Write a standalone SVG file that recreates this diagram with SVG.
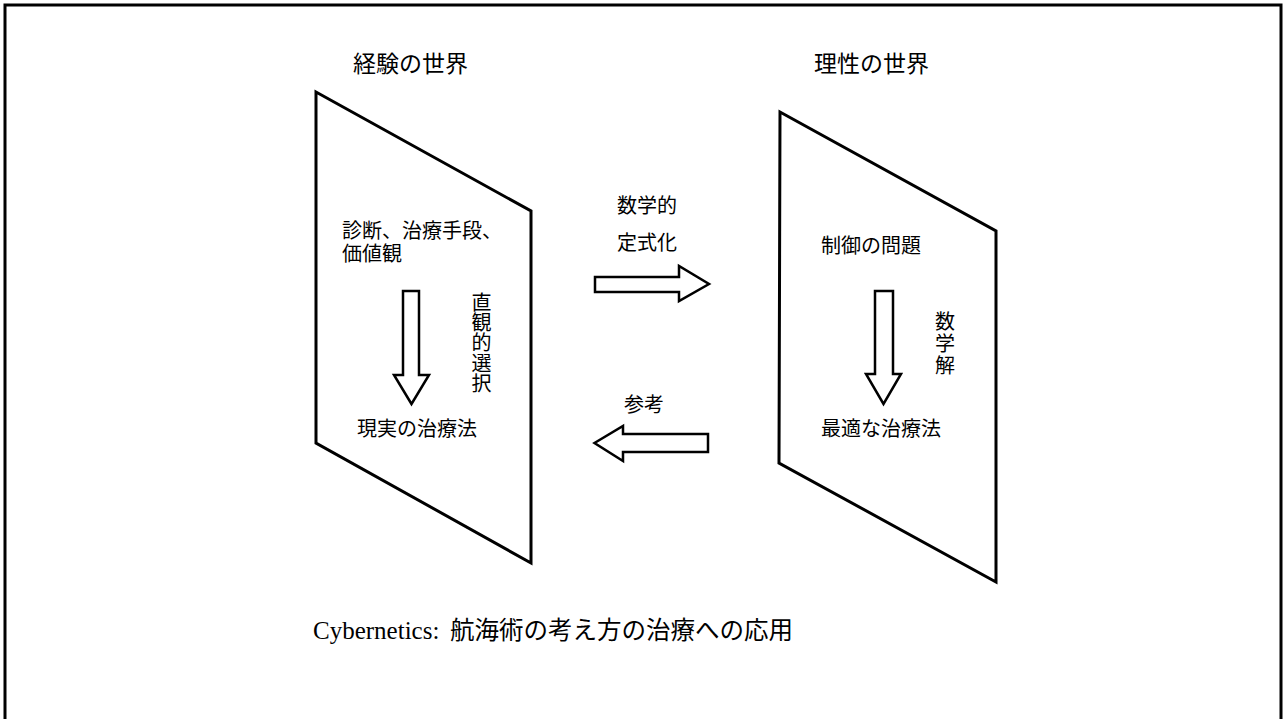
<svg xmlns="http://www.w3.org/2000/svg" width="1284" height="719" viewBox="0 0 1284 719">
  <style>
    .jp { font-family: "Noto Sans CJK JP", "Noto Sans", sans-serif; fill: #000; }
    .title { font-size: 23px; }
    .body { font-size: 20px; }
    .vert { writing-mode: vertical-rl; glyph-orientation-vertical: 0; }
    .panel { fill: #fff; stroke: #000; stroke-width: 3; stroke-linejoin: miter; }
    .arrow { fill: #fff; stroke: #000; stroke-width: 2.5; stroke-linejoin: miter; }
  </style>
  <rect x="0" y="0" width="1284" height="719" fill="#fff"/>
  <rect x="5" y="5" width="1276" height="740" fill="none" stroke="#000" stroke-width="3"/>

  <g id="experience-world">
    <text class="jp title" x="353" y="71.5">経験の世界</text>
    <polygon class="panel" points="316,92 531,211 531,563 316,443"/>
    <text class="jp body" x="342" y="238">診断、治療手段、<tspan x="342" dy="23">価値観</tspan></text>
    <text class="jp body vert" x="481.5" y="292" letter-spacing="0.4">直観的選択</text>
    <text class="jp body" x="357" y="436">現実の治療法</text>
  </g>

  <g id="reason-world">
    <text class="jp title" x="814" y="71.5">理性の世界</text>
    <polygon class="panel" points="780,112 996,231 996,582 779,463"/>
    <text class="jp body" x="821" y="253">制御の問題</text>
    <text class="jp body vert" x="945" y="311.5" letter-spacing="2">数学解</text>
    <text class="jp body" x="821" y="436">最適な治療法</text>
  </g>

  <g id="connectors">
    <polygon class="arrow" points="403,291 419,291 419,375 429,375 411.5,404 394,375 403,375"/>
    <polygon class="arrow" points="875,291 893,291 893,374 901,374 883.5,404 866,374 875,374"/>
    <polygon class="arrow" points="595,277 679,277 679,266 709,284 679,301 679,292 595,292"/>
    <polygon class="arrow" points="708,434 708,452 623,452 623,461 594.5,443 623,426 623,434"/>
    <text class="jp body" x="617" y="213">数学的</text>
    <text class="jp body" x="617" y="250">定式化</text>
    <text class="jp body" x="624" y="412">参考</text>
  </g>

  <g id="caption">
    <text x="313" y="639" font-family="Liberation Serif, serif" font-size="25" fill="#000">Cybernetics:</text>
    <text class="jp" x="450" y="639" font-size="24.5">航海術の考え方の治療への応用</text>
  </g>
</svg>
